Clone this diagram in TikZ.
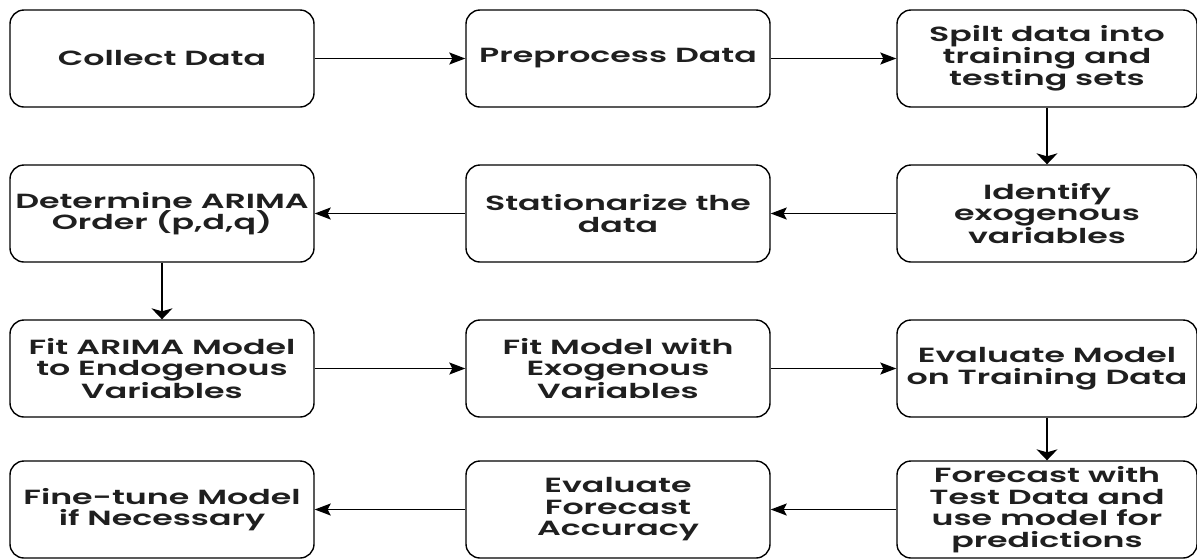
\documentclass[tikz,border=0pt]{standalone}
\usepackage{fontspec}
\setmainfont{Poppins}[FakeStretch=1.62, BoldFont={Poppins SemiBold}, BoldFeatures={FakeStretch=1.62}]
\usetikzlibrary{arrows.meta}
\begin{document}
\begin{tikzpicture}[x=1pt,y=-1pt,
  box/.style={draw=black, line width=1.4pt, rounded corners=14pt,
    minimum height=97pt, inner sep=0pt, align=center,
    font=\fontsize{20.5}{21.5}\selectfont\bfseries, text=black!88},
  c12/.style={box, minimum width=304pt},
  c3/.style={box, minimum width=300pt},
  harr/.style={-{Stealth[length=16pt,width=12pt,inset=3pt]}, line width=1.3pt},
  varr/.style={-{Stealth[length=11pt,width=21pt,inset=3pt]}, line width=1.3pt}]
\useasboundingbox (0,0) rectangle (1197,558);
\clip (0,0) rectangle (1197,558);
\fill[white] (0,0) rectangle (1197,558);
% row 1
\node[c12] (a1) at (162,58.5) {Collect Data};
\node[c12] (a2) at (618,58.5) {Preprocess Data};
\node[c3]  (a3) at (1047,58.5) {Spilt data into\\training and\\testing sets};
% row 2
\node[c12] (b1) at (162,213.5) {Determine ARIMA\\Order (p,d,q)};
\node[c12] (b2) at (618,213.5) {Stationarize the\\data};
\node[c3]  (b3) at (1047,213.5) {Identify\\exogenous\\variables};
% row 3
\node[c12] (c1) at (162,368.5) {Fit ARIMA Model\\to Endogenous\\Variables};
\node[c12] (c2) at (618,368.5) {Fit Model with\\Exogenous\\Variables};
\node[c3]  (c3) at (1047,368.5) {Evaluate Model\\on Training Data};
% row 4
\node[c12] (d1) at (162,509.5) {Fine-tune Model\\if Necessary};
\node[c12] (d2) at (618,509.5) {Evaluate\\Forecast\\Accuracy};
\node[c3]  (d3) at (1047,509.5) {Forecast with\\Test Data and\\use model for\\predictions};
% connectors
\draw[harr] (a1) -- (a2);
\draw[harr] (a2) -- (a3);
\draw[varr] (a3) -- (b3);
\draw[harr] (b3) -- (b2);
\draw[harr] (b2) -- (b1);
\draw[varr] (b1) -- (c1);
\draw[harr] (c1) -- (c2);
\draw[harr] (c2) -- (c3);
\draw[varr] (c3) -- (d3);
\draw[harr] (d3) -- (d2);
\draw[harr] (d2) -- (d1);
\end{tikzpicture}
\end{document}
